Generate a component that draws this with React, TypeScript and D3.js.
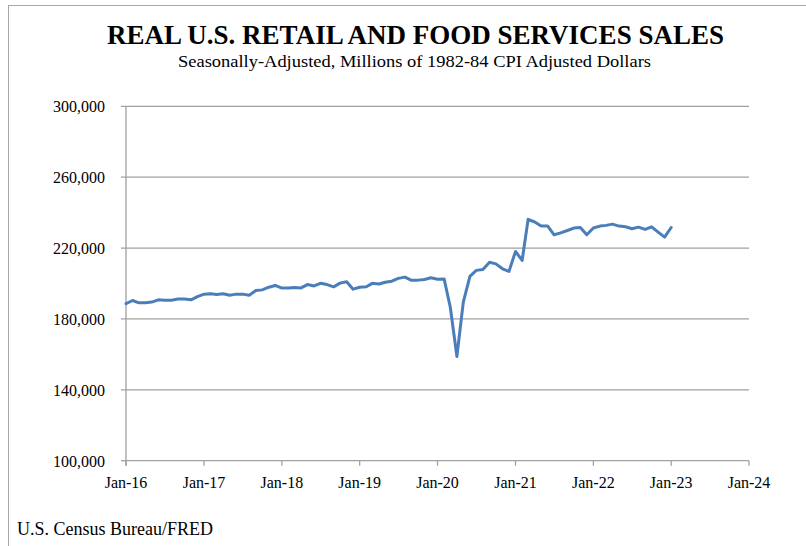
import React from "react";
import * as d3 from "d3";

const TITLE = "REAL U.S. RETAIL AND FOOD SERVICES SALES";
const SUBTITLE = "Seasonally-Adjusted, Millions of 1982-84 CPI Adjusted Dollars";
const SOURCE = "U.S. Census Bureau/FRED";

const START_YEAR = 2016;
const salesK: number[] = [
  // 2016
  188.6, 190.4, 189.1, 189.1, 189.5, 190.8, 190.6, 190.6, 191.3, 191.3, 190.8, 192.6,
  // 2017
  194.0, 194.2, 193.8, 194.2, 193.4, 194.0, 194.0, 193.4, 196.0, 196.4, 197.9, 198.9,
  // 2018
  197.4, 197.4, 197.8, 197.5, 199.4, 198.6, 200.1, 199.4, 198.1, 200.2, 201.0, 196.8,
  // 2019
  197.9, 198.2, 200.1, 199.7, 200.7, 201.3, 202.9, 203.6, 201.8, 201.9, 202.3, 203.2,
  // 2020
  202.4, 202.6, 186.6, 158.8, 189.5, 204.0, 207.4, 207.9, 212.0, 211.1, 208.3, 206.8,
  // 2021
  218.1, 213.0, 236.2, 234.7, 232.4, 232.4, 227.5, 228.6, 229.9, 231.3, 231.6, 227.5,
  // 2022
  231.3, 232.4, 232.8, 233.5, 232.4, 232.0, 230.9, 231.8, 230.5, 232.0, 229.0, 226.2,
  // 2023
  231.6,
];

const yTicks = [100000, 140000, 180000, 220000, 260000, 300000];
const xTickYears = [2016, 2017, 2018, 2019, 2020, 2021, 2022, 2023, 2024];

const fmtY = d3.format(",");
const fmtX = d3.timeFormat("%b-%y");

export default function App() {
  const W = 806;
  const H = 546;
  const left = 126;
  const right = 749;
  const top = 106.3;
  const bottom = 460.7;

  const x = d3
    .scaleTime()
    .domain([new Date(2016, 0, 1), new Date(2024, 0, 1)])
    .range([left, right]);
  const y = d3.scaleLinear().domain([100000, 300000]).range([bottom, top]);

  const data = salesK.map((v, i) => ({
    date: new Date(START_YEAR + Math.floor(i / 12), i % 12, 1),
    value: v * 1000,
  }));

  const line = d3
    .line<{ date: Date; value: number }>()
    .x((d) => x(d.date))
    .y((d) => y(d.value));

  const grid = "#a0a0a0";
  const serif = "'Liberation Serif', 'Times New Roman', serif";

  return (
    <svg
      width={W}
      height={H}
      style={{ position: "absolute", left: 0, top: 0, background: "#fff" }}
      fontFamily={serif}
    >
      <rect x={8.5} y={5.5} width={W} height={H} fill="#fff" stroke="#a6a6a6" strokeWidth={1} />
      <text
        x={415.5}
        y={43.5}
        textAnchor="middle"
        fontSize={26.7}
        fontWeight="bold"
        textLength={617}
        lengthAdjust="spacingAndGlyphs"
        fill="#000"
      >
        {TITLE}
      </text>
      <text
        x={414.5}
        y={67}
        textAnchor="middle"
        fontSize={17.5}
        textLength={473}
        lengthAdjust="spacingAndGlyphs"
        fill="#000"
      >
        {SUBTITLE}
      </text>

      {yTicks.map((t) => (
        <g key={t}>
          <line
            x1={left - 5}
            x2={t === 100000 ? left : right}
            y1={y(t)}
            y2={y(t)}
            stroke={grid}
            strokeWidth={1.3}
          />
          <text x={105} y={y(t) + 6} textAnchor="end" fontSize={16} fill="#000">
            {fmtY(t)}
          </text>
        </g>
      ))}

      <line x1={left} x2={left} y1={top} y2={bottom + 5} stroke={grid} strokeWidth={1.3} />
      <line x1={left} x2={right} y1={bottom} y2={bottom} stroke={grid} strokeWidth={1.3} />

      {xTickYears.map((yr) => {
        const d = new Date(yr, 0, 1);
        const px = x(d);
        return (
          <g key={yr}>
            <line x1={px} x2={px} y1={bottom} y2={bottom + 5} stroke={grid} strokeWidth={1.3} />
            <text x={px} y={488} textAnchor="middle" fontSize={16} fill="#000">
              {fmtX(d)}
            </text>
          </g>
        );
      })}

      <path
        d={line(data) || ""}
        fill="none"
        stroke="#4a7ebb"
        strokeWidth={3}
        strokeLinejoin="round"
        strokeLinecap="round"
      />

      <text x={17} y={535} fontSize={18} fill="#000">
        {SOURCE}
      </text>
    </svg>
  );
}
